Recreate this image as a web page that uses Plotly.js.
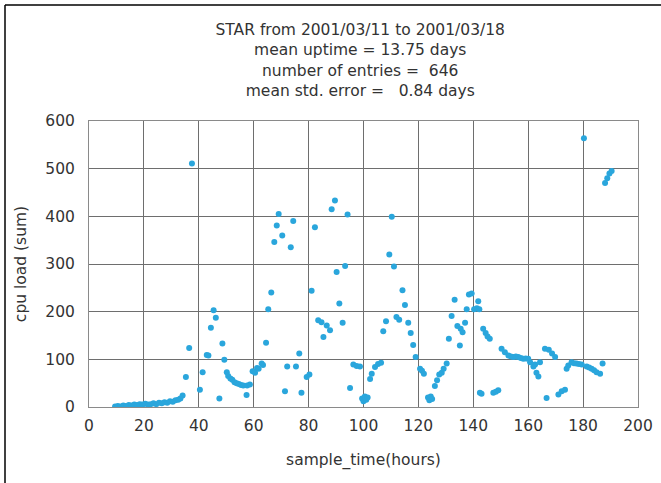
<!DOCTYPE html>
<html>
<head>
<meta charset="utf-8">
<script src="https://cdn.plot.ly/plotly-3.0.1.min.js"></script>
<style>
  html, body { margin: 0; padding: 0; background: #fff; }
  #chart { width: 661px; height: 483px; }
</style>
</head>
<body>
<div id="chart"></div>
<script>
// ---- data ----
const sampleTime = [
  9.5,10.5,11.5,12.5,13.5,14.5,15.5,16.5,17.5,18.5,19.5,20.5,21.5,22.5,23.5,24.5,25.5,26.5,27.5,28.5,29.5,30.5,31.5,32.5,33.3,34.1,
  35.3,36.5,37.5,
  40.4,41.4,42.9,43.5,44.4,45.4,46.2,47.5,48.6,49.3,50.2,50.7,51.5,52.2,53.0,53.8,54.6,55.4,56.2,57.4,57.6,58.6,59.6,60.5,61.2,61.8,62.9,63.4,
  64.5,65.3,66.4,67.5,68.4,69.1,70.4,71.4,72.2,73.5,74.4,75.4,76.6,77.4,79.3,80.3,81.1,82.3,83.5,84.7,85.4,86.6,87.8,88.4,89.6,90.2,91.2,92.4,93.3,94.2,95.1,96.3,97.5,98.7,
  99.5,100.0,100.5,101.0,101.5,102.4,103.0,104.2,105.3,106.4,107.2,108.2,109.4,110.3,111.1,112.0,113.0,114.2,115.1,116.3,117.2,118.1,119.0,120.6,121.3,122.0,
  123.5,124.0,124.5,125.0,126.0,126.8,127.6,128.5,129.2,130.3,131.1,132.1,133.2,134.2,135.1,135.4,136.1,137.0,137.6,138.4,139.4,140.3,141.3,141.8,142.2,142.4,143.0,
  143.6,144.5,145.2,146.0,147.3,148.2,149.1,150.3,151.5,152.8,153.7,154.6,155.5,156.4,157.3,158.2,159.1,160.0,160.7,161.9,162.5,163.0,163.7,164.3,
  166.1,166.7,167.5,168.7,169.8,171.0,172.2,173.4,174.0,174.6,175.8,176.7,177.6,178.5,179.5,180.3,181.3,182.2,183.1,184.0,184.9,186.2,187.1,
  188.0,188.8,189.6,190.4
];
const cpuLoad = [
  1,2,1,3,2,4,3,5,4,6,5,7,5,6,8,6,9,8,10,9,12,11,14,15,18,24,
  63,124,511,
  36,73,109,108,166,203,187,18,133,99,73,65,60,57,52,50,48,46,45,25,45,47,75,72,82,80,91,88,
  135,205,240,346,381,405,360,33,85,335,390,85,112,30,63,68,244,377,182,178,147,171,161,415,433,283,217,177,296,404,40,89,86,85,
  18,12,22,15,20,59,70,84,90,93,159,180,320,399,295,189,183,245,214,177,155,130,105,80,76,70,
  20,14,22,17,44,56,68,72,80,91,143,191,225,170,129,164,157,177,205,236,238,205,207,222,205,30,28,
  164,155,148,143,30,32,35,122,115,108,106,105,106,105,103,101,102,101,94,85,89,72,64,94,
  122,19,120,112,105,26,33,36,80,87,94,92,91,90,89,564,85,83,80,77,73,70,91,
  470,480,490,495
];
const titleLines = [
  "STAR from 2001/03/11 to 2001/03/18",
  "mean uptime = 13.75 days",
  "number of entries =  646",
  "mean std. error =   0.84 days"
];
const xTickVals = [0,20,40,60,80,100,120,140,160,180,200];
const yTickVals = [0,100,200,300,400,500,600];
const xLabel = "sample_time(hours)";
const yLabel = "cpu load (sum)";

const FONT = "DejaVu Sans, Liberation Sans, Arial, sans-serif";
const TXT = "#333333";

const trace = {
  type: "scatter",
  mode: "markers",
  x: sampleTime,
  y: cpuLoad,
  marker: { color: "#2aa6dc", size: 6, line: { width: 0 } },
  hoverinfo: "x+y"
};

const layout = {
  width: 661,
  height: 483,
  margin: { l: 89, r: 23, t: 121, b: 76, pad: 0 },
  paper_bgcolor: "#ffffff",
  plot_bgcolor: "#ffffff",
  showlegend: false,
  font: { family: FONT, size: 15.5, color: TXT },
  title: {
    text: titleLines.join("<br>"),
    font: { family: FONT, size: 15.5, color: TXT },
    x: 0.545, xanchor: "center",
    y: 0.927, yanchor: "top"
  },
  xaxis: {
    range: [0, 200],
    tickvals: xTickVals,
    ticktext: xTickVals.map(String),
    showgrid: true, gridcolor: "#6e6e6e", gridwidth: 1,
    zeroline: false,
    showline: true, mirror: true, linecolor: "#8a8a8a", linewidth: 1,
    ticks: "",
    ticklabelstandoff: 4,
    tickfont: { family: FONT, size: 15.5, color: TXT },
    title: { text: xLabel, font: { family: FONT, size: 15.5, color: TXT }, standoff: 20 },
    fixedrange: true
  },
  yaxis: {
    range: [0, 600],
    tickvals: yTickVals,
    ticktext: yTickVals.map(String),
    showgrid: true, gridcolor: "#6e6e6e", gridwidth: 1,
    zeroline: false,
    showline: true, mirror: true, linecolor: "#8a8a8a", linewidth: 1,
    ticks: "",
    ticklabelstandoff: 10,
    tickfont: { family: FONT, size: 15.5, color: TXT },
    title: { text: yLabel, font: { family: FONT, size: 15.5, color: TXT }, standoff: 14 },
    fixedrange: true
  },
  shapes: [
    { type: "line", xref: "paper", yref: "paper", x0: -0.153, x1: -0.153, y0: 1.4056, y1: -0.3,
      line: { color: "#000000", width: 1.5 } },
    { type: "line", xref: "paper", yref: "paper", x0: -0.153, x1: 1.06, y0: 1.4056, y1: 1.4056,
      line: { color: "#000000", width: 1.5 } }
  ]
};

Plotly.newPlot("chart", [trace], layout, { displayModeBar: false, staticPlot: true });
</script>
</body>
</html>
